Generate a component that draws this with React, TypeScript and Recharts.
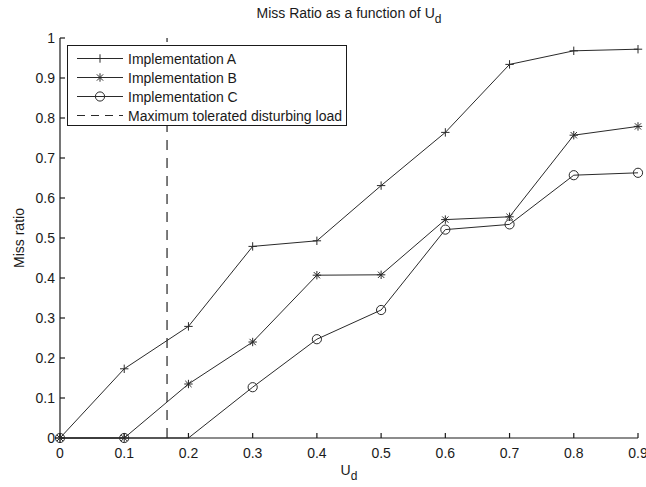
import React from "react";
import {
  LineChart, Line, XAxis, YAxis, ReferenceLine, Legend, Label,
} from "recharts";

const U_VALUES = [0, 0.1, 0.2, 0.3, 0.4, 0.5, 0.6, 0.7, 0.8, 0.9];
const IMPL_A = [0, 0.173, 0.279, 0.479, 0.493, 0.631, 0.764, 0.934, 0.968, 0.972];
const IMPL_B = [0, 0, 0.135, 0.24, 0.407, 0.408, 0.546, 0.553, 0.757, 0.779];
const IMPL_C = [0, 0, 0, 0.127, 0.247, 0.32, 0.521, 0.534, 0.657, 0.663];
const Y_TICKS = [0, 0.1, 0.2, 0.3, 0.4, 0.5, 0.6, 0.7, 0.8, 0.9, 1];
const MAX_LOAD = 1 / 6;
// C has no marker where it leaves the axis
const C_HIDDEN_MARKERS = [2];

const data = U_VALUES.map((u, i) => ({ u, a: IMPL_A[i], b: IMPL_B[i], c: IMPL_C[i] }));

const FONT = '"Liberation Sans", Arial, Helvetica, sans-serif';
const INK = "#1a1a1a";
const LINE = "#2a2a2a";

type Kind = "plus" | "star" | "circle";

function Marker({ kind, cx, cy }: { kind: Kind; cx: number; cy: number }) {
  const s = 4.2;
  if (kind === "plus") {
    return (
      <g stroke={LINE} strokeWidth={1} fill="none">
        <line x1={cx - s} y1={cy} x2={cx + s} y2={cy} />
        <line x1={cx} y1={cy - s} x2={cx} y2={cy + s} />
      </g>
    );
  }
  if (kind === "star") {
    const d = s * 0.75;
    return (
      <g stroke={LINE} strokeWidth={1} fill="none">
        <line x1={cx - s} y1={cy} x2={cx + s} y2={cy} />
        <line x1={cx} y1={cy - s} x2={cx} y2={cy + s} />
        <line x1={cx - d} y1={cy - d} x2={cx + d} y2={cy + d} />
        <line x1={cx - d} y1={cy + d} x2={cx + d} y2={cy - d} />
      </g>
    );
  }
  return <circle cx={cx} cy={cy} r={4.6} stroke={LINE} strokeWidth={1} fill="none" />;
}

const makeDot = (kind: Kind, hidden: number[] = []) => (p: any) => {
  if (hidden.includes(p.index) || p.cx == null) return <g key={`${kind}-${p.index}`} />;
  return (
    <g key={`${kind}-${p.index}`}>
      <Marker kind={kind} cx={p.cx} cy={p.cy} />
    </g>
  );
};

const LEGEND_ROWS: { label: string; kind: Kind | "dash" }[] = [
  { label: "Implementation A", kind: "plus" },
  { label: "Implementation B", kind: "star" },
  { label: "Implementation C", kind: "circle" },
  { label: "Maximum tolerated disturbing load", kind: "dash" },
];

function LegendBox() {
  return (
    <div
      style={{
        width: 280,
        height: 81,
        boxSizing: "border-box",
        border: `1px solid ${INK}`,
        background: "#fff",
        paddingTop: 3,
        fontFamily: FONT,
        fontSize: 14,
        color: INK,
      }}
    >
      {LEGEND_ROWS.map((r) => (
        <div key={r.label} style={{ display: "flex", alignItems: "center", height: 19 }}>
          <svg width={60} height={19} style={{ flex: "none" }}>
            <line
              x1={9}
              y1={9.5}
              x2={55}
              y2={9.5}
              stroke={LINE}
              strokeWidth={1}
              strokeDasharray={r.kind === "dash" ? "8 6" : undefined}
            />
            {r.kind !== "dash" && <Marker kind={r.kind} cx={32} cy={9.5} />}
          </svg>
          <span style={{ whiteSpace: "nowrap" }}>{r.label}</span>
        </div>
      ))}
    </div>
  );
}

export default function App() {
  return (
    <div
      style={{
        position: "absolute",
        left: 0,
        top: 0,
        width: 646,
        height: 487,
        overflow: "hidden",
        background: "#fff",
      }}
    >
      <div
        style={{
          position: "absolute",
          left: 60,
          top: 5,
          width: 578,
          textAlign: "center",
          fontFamily: FONT,
          fontSize: 14,
          lineHeight: "16px",
          color: INK,
          zIndex: 2,
        }}
      >
        Miss Ratio as a function of U
        <sub style={{ fontSize: 12, verticalAlign: "-5px", lineHeight: 0 }}>d</sub>
      </div>
      <LineChart
        width={646}
        height={487}
        data={data}
        margin={{ top: 38, right: 8, bottom: 0, left: 0 }}
        style={{ fontFamily: FONT }}
      >
        <XAxis
          dataKey="u"
          type="number"
          domain={[0, 0.9]}
          ticks={U_VALUES}
          interval={0}
          height={49}
          tickSize={-5}
          tickMargin={15}
          tick={{ fontSize: 14, fill: INK }}
          stroke={INK}
          strokeWidth={1.2}
        >
          <Label
            content={(p: any) => {
              const vb = p.viewBox;
              return (
                <text x={vb.x + vb.width / 2} y={vb.y + 37} textAnchor="middle" fontSize={14} fill={INK} fontFamily={FONT}>
                  U<tspan fontSize={12} dy={5}>d</tspan>
                </text>
              );
            }}
          />
        </XAxis>
        <XAxis
          xAxisId="top"
          orientation="top"
          dataKey="u"
          type="number"
          domain={[0, 0.9]}
          ticks={U_VALUES}
          interval={0}
          height={0}
          tickSize={-5}
          tick={false}
          stroke={INK}
          strokeWidth={1.2}
        />
        <YAxis
          type="number"
          domain={[0, 1]}
          ticks={Y_TICKS}
          interval={0}
          width={60}
          tickSize={-5}
          tickMargin={10}
          tick={{ fontSize: 14, fill: INK }}
          stroke={INK}
          strokeWidth={1.2}
        >
          <Label
            content={(p: any) => {
              const vb = p.viewBox;
              const cy = vb.y + vb.height / 2;
              return (
                <text x={24} y={cy} textAnchor="middle" fontSize={14} fill={INK} fontFamily={FONT} transform={`rotate(-90 24 ${cy})`}>
                  Miss ratio
                </text>
              );
            }}
          />
        </YAxis>
        <YAxis
          yAxisId="right"
          orientation="right"
          type="number"
          domain={[0, 1]}
          ticks={Y_TICKS}
          interval={0}
          width={0}
          tickSize={-5}
          tick={false}
          stroke={INK}
          strokeWidth={1.2}
        />
        <ReferenceLine x={MAX_LOAD} stroke="#111" strokeWidth={1.1} strokeDasharray="10 8" />
        <Line
          dataKey="a"
          name="Implementation A"
          stroke={LINE}
          strokeWidth={1}
          dot={makeDot("plus")}
          activeDot={false}
          isAnimationActive={false}
        />
        <Line
          dataKey="b"
          name="Implementation B"
          stroke={LINE}
          strokeWidth={1}
          dot={makeDot("star")}
          activeDot={false}
          isAnimationActive={false}
        />
        <Line
          dataKey="c"
          name="Implementation C"
          stroke={LINE}
          strokeWidth={1}
          dot={makeDot("circle", C_HIDDEN_MARKERS)}
          activeDot={false}
          isAnimationActive={false}
        />
        <Legend
          layout="vertical"
          align="center"
          verticalAlign="middle"
          wrapperStyle={{ left: 67, top: 45, width: 280, height: 81 }}
          content={() => <LegendBox />}
        />
      </LineChart>
    </div>
  );
}
